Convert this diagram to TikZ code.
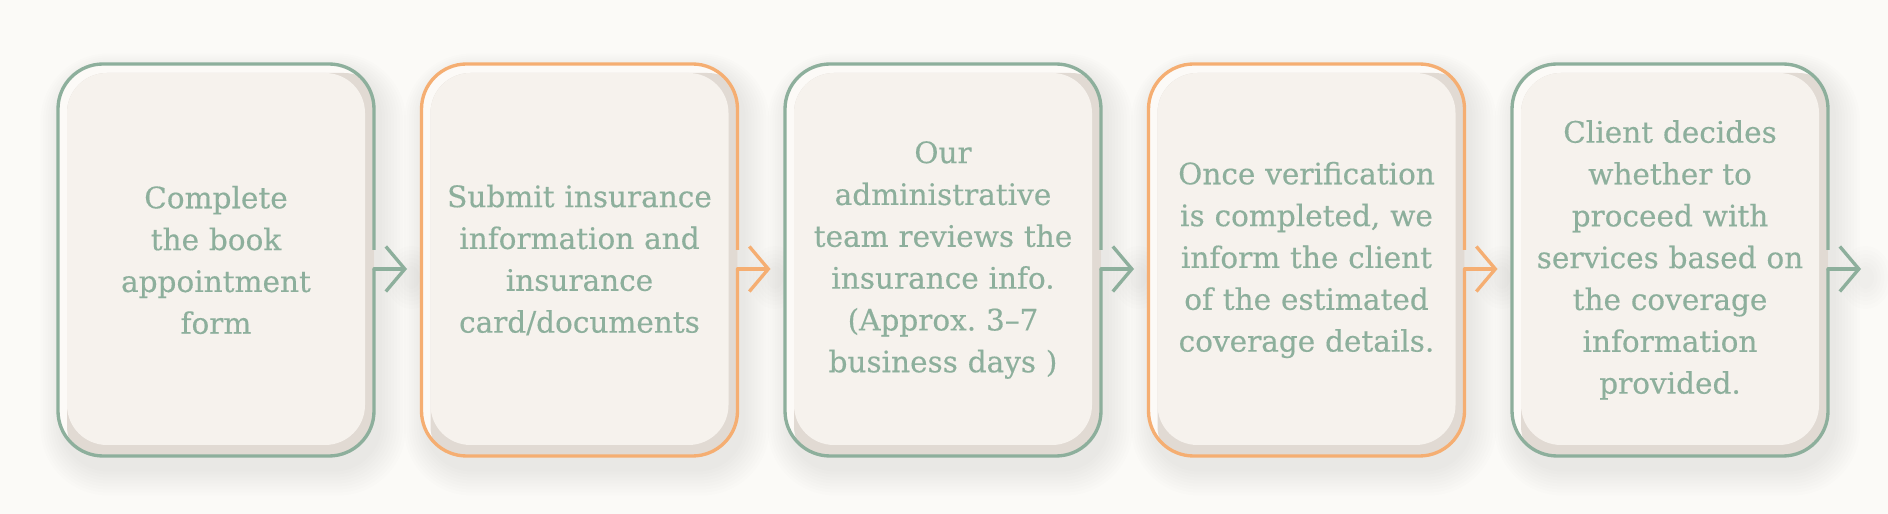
\documentclass[tikz,border=0pt]{standalone}
\usepackage{fontspec}
\setmainfont{DejaVu Serif}
\newfontfamily\cardfont{DejaVu Serif}[Ligatures=TeX, FakeBold=0.35]
\usetikzlibrary{shapes,arrows.meta,calc}
\definecolor{sage}{HTML}{8DAF9C}
\definecolor{peach}{HTML}{F5AE72}
\definecolor{paper}{HTML}{FBFAF7}
\definecolor{cardfill}{HTML}{F6F2ED}
\definecolor{cardshade}{HTML}{E1DAD3}
\definecolor{cardlite}{HTML}{FCFAF7}
\pgfdeclarelayer{back}
\pgfsetlayers{back,main}
\tikzstyle{line} = [draw, line width=1.9pt, line cap=round, line join=round, -{Straight Barb[length=0.38cm, width=0.9cm]}]
\tikzstyle{rim} = [draw, line width=1.9pt, rounded corners=0.9cm]
\tikzstyle{haze} = [fill=black!70!brown, opacity=0.007]
\tikzstyle{card} = [rectangle, rounded corners=0.9cm, minimum width=6.32cm, minimum height=7.84cm, inner sep=0.1cm, outer sep=0pt, fill=cardlite, text width=6cm, align=center, text=sage, font=\cardfont\fontsize{16.8}{23.8}\selectfont\frenchspacing,
  path picture={
    \fill[cardshade, rounded corners=0.8cm] ([shift={(0.18,-0.18)}]path picture bounding box.north west) rectangle ([shift={(0.2,-0.2)}]path picture bounding box.south east);
    \fill[cardfill, rounded corners=0.8cm] ([shift={(0.18,-0.18)}]path picture bounding box.north west) rectangle ([shift={(-0.18,0.22)}]path picture bounding box.south east);
  }]

\begin{document}
\begin{tikzpicture}[node distance=7.27cm]
        \useasboundingbox (0,0) rectangle (37.76,10.28);
        \node[card] (form) at (4.32,5.08) {Complete\\the book\\appointment\\form};
        \node[card, right of=form] (submit) {Submit insurance\\information and\\insurance\\card/documents};
        \node[card, right of=submit] (review) {Our\\administrative\\team reviews the\\insurance info.\\(Approx. 3--7\\business days )};
        \node[card, right of=review] (inform) {Once verification\\is completed, we\\inform the client\\of the estimated\\coverage details.};
        \node[card, right of=inform] (decide) {Client decides\\whether to\\proceed with\\services based on\\the coverage\\information\\provided.};
        % borders, open where the arrow leaves
        \draw[rim, sage] ($(form.east)+(0,-0.18)$) |- (form.south west) |- (form.north east) -- ($(form.east)+(0,0.2)$);
        \draw[rim, peach] ($(submit.east)+(0,-0.18)$) |- (submit.south west) |- (submit.north east) -- ($(submit.east)+(0,0.2)$);
        \draw[rim, sage] ($(review.east)+(0,-0.18)$) |- (review.south west) |- (review.north east) -- ($(review.east)+(0,0.2)$);
        \draw[rim, peach] ($(inform.east)+(0,-0.18)$) |- (inform.south west) |- (inform.north east) -- ($(inform.east)+(0,0.2)$);
        \draw[rim, sage] ($(decide.east)+(0,-0.18)$) |- (decide.south west) |- (decide.north east) -- ($(decide.east)+(0,0.2)$);
        % arrows
        \path[line, sage] ($(form.east)+(0,-0.18)$) -- +(0.66,0);
        \path[line, peach] ($(submit.east)+(0,-0.18)$) -- +(0.66,0);
        \path[line, sage] ($(review.east)+(0,-0.18)$) -- +(0.66,0);
        \path[line, peach] ($(inform.east)+(0,-0.18)$) -- +(0.66,0);
        \path[line, sage] ($(decide.east)+(0,-0.18)$) -- +(0.66,0);
        % paper and soft shadows
        \begin{pgfonlayer}{back}
        \fill[paper] (0,0) rectangle (37.76,10.28);
        \foreach \n in {form,submit,review,inform,decide} {
          \foreach \k in {1,...,9}
            \fill[haze, rounded corners=0.9cm+\k*0.05cm] ($(\n.south west)+(0.1-\k*0.05,-0.25-\k*0.06)$) rectangle ($(\n.north east)+(0.1+\k*0.06,-0.15+\k*0.04)$);
          \foreach \k in {1,...,6}
            \fill[haze] ($(\n.east)+(0.75,-0.35)$) ellipse ({0.1+\k*0.07} and {0.15+\k*0.08});
        }
        \end{pgfonlayer}
\end{tikzpicture}
\end{document}
